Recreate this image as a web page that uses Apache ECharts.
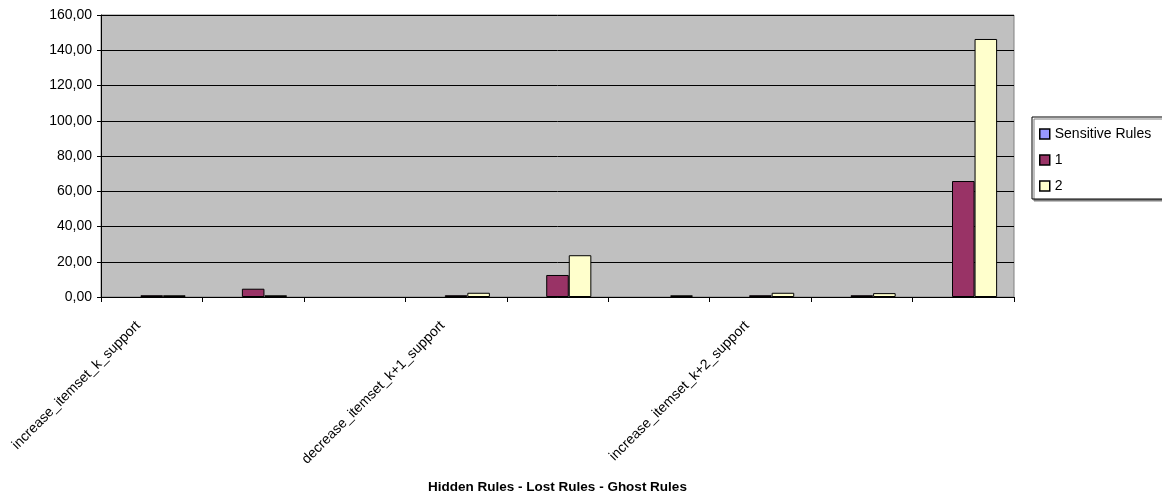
<!DOCTYPE html>
<html>
<head>
<meta charset="utf-8">
<title>Hidden Rules - Lost Rules - Ghost Rules</title>
<script src="https://cdn.jsdelivr.net/npm/echarts@6/dist/echarts.min.js"></script>
<style>
  html, body { margin: 0; padding: 0; background: #ffffff; }
  #chart { width: 1162px; height: 495px; }
</style>
</head>
<body>
<div id="chart"></div>
<script>
// Categories: only every third one carries a printed name
const categories = [
  'increase_itemset_k_support', '', '',
  'decrease_itemset_k+1_support', '', '',
  'increase_itemset_k+2_support', '', ''
];
const seriesNames = ['Sensitive Rules', '1', '2'];
const sensitiveRules = [0, 0, 0, 0, 0, 0, 0, 0, 0];
const run1 = [1, 4.7, 0, 1, 12.5, 0, 1, 1, 65.8];
const run2 = [1, 1, 0, 2.4, 23.7, 1, 2.4, 2.2, 146.4];
const yTicks = { min: 0, max: 160, interval: 20 };
const colors = ['#9999FF', '#993366', '#FFFFCC'];
const xTitle = 'Hidden Rules - Lost Rules - Ghost Rules';

const font = '"Liberation Sans", Arial, sans-serif';
const chart = echarts.init(document.getElementById('chart'), null, { renderer: 'canvas' });

// zero values leave no bar at all (no outline sitting on the axis)
const values = [sensitiveRules, run1, run2];
const series = seriesNames.map((name, i) => ({
  name: name,
  type: 'bar',
  data: values[i].map(v => (v === 0 ? null : v)),
  barGap: '0%',
  barCategoryGap: '33.3%',
  itemStyle: { color: colors[i], borderColor: '#000000', borderWidth: 1 },
  emphasis: { disabled: true },
  animation: false
}));

chart.setOption({
  animation: false,
  textStyle: { fontFamily: font },
  grid: {
    left: 101, top: 15, width: 913, height: 282,
    containLabel: false,
    outerBoundsMode: 'none',
    show: true, backgroundColor: '#C0C0C0', borderColor: '#808080', borderWidth: 1
  },
  legend: {
    data: seriesNames,
    orient: 'vertical',
    left: 1032, top: 117,
    padding: [10, 16, 6, 7],
    itemGap: 12,
    itemWidth: 10, itemHeight: 10,
    icon: 'rect',
    backgroundColor: '#ffffff',
    borderColor: '#000000', borderWidth: 1,
    shadowColor: '#808080', shadowOffsetX: 2, shadowOffsetY: 2, shadowBlur: 0,
    textStyle: { fontFamily: font, fontSize: 14, color: '#000000' },
    itemStyle: { borderColor: '#000000', borderWidth: 1.5 },
    selectedMode: false
  },
  xAxis: {
    type: 'category',
    data: categories,
    name: xTitle,
    nameLocation: 'middle',
    nameGap: 183,
    nameTextStyle: { fontFamily: font, fontSize: 13.5, fontWeight: 'bold', color: '#000000' },
    axisLine: { lineStyle: { color: '#000000', width: 1 } },
    axisTick: { show: true, length: 5, interval: 0, lineStyle: { color: '#000000' } },
    axisLabel: {
      interval: 0, rotate: 45, margin: 13,
      padding: [0, 19, 0, 0],
      fontFamily: font, fontSize: 14, color: '#000000'
    },
    splitLine: { show: false }
  },
  yAxis: {
    type: 'value',
    min: yTicks.min, max: yTicks.max, interval: yTicks.interval,
    axisLine: { show: true, lineStyle: { color: '#000000', width: 1 } },
    axisTick: { show: true, length: 4, lineStyle: { color: '#000000' } },
    axisLabel: {
      margin: 9, fontFamily: font, fontSize: 14, color: '#000000',
      formatter: v => v.toFixed(2).replace('.', ',')
    },
    splitLine: { show: true, lineStyle: { color: '#000000', width: 1 } }
  },
  series: series
});
</script>
</body>
</html>
